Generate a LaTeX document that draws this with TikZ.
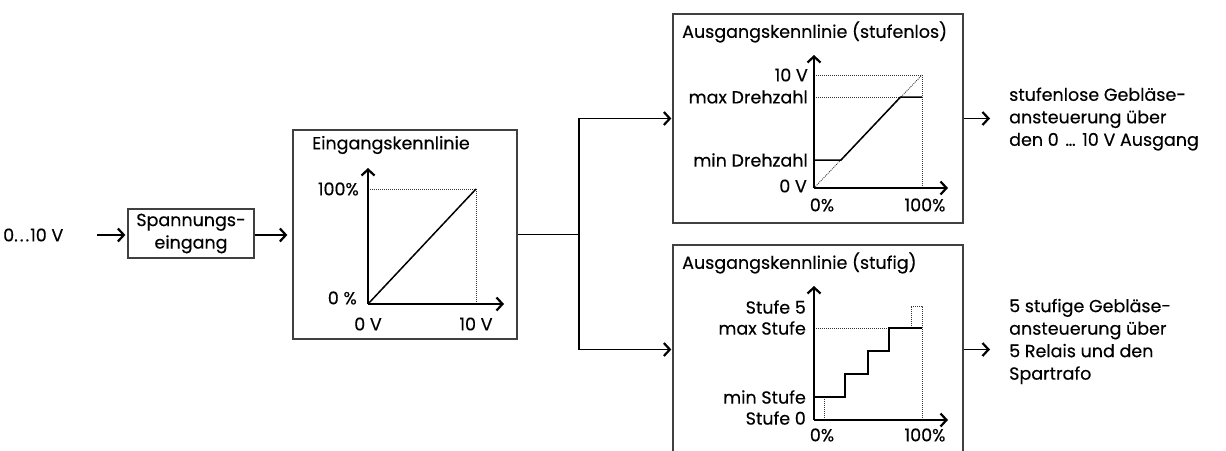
\documentclass[tikz,border=0pt]{standalone}
\usepackage{fontspec}
\setmainfont{Poppins}[FakeBold=0.35]
\usetikzlibrary{arrows.meta}
\begin{document}
\begin{tikzpicture}[x=1pt,y=-1pt,
  every node/.style={font=\fontsize{17.5}{22.5}\selectfont, inner sep=0pt, text=black},
  frame/.style={draw=black!75, line width=1.3pt},
  arr/.style={line width=1.1pt, -{Straight Barb[length=6pt,width=13pt,line width=2.2pt]}},
  axis/.style={line width=1.5pt, -{Straight Barb[length=6pt,width=13pt,line width=2.2pt]}},
  dotl/.style={line width=0.8pt, dash pattern=on 1pt off 1pt, black!80},
  curve/.style={line width=1.5pt},
  lbl/.style={anchor=east}
]
\useasboundingbox (0,0) rectangle (1226,450);
\clip (0,0) rectangle (1226,450);

% input
\node[anchor=west] (in) at (3,235) {0.\kern2pt.\kern2pt.\kern1pt10 V};
\coordinate (ia) at (97,235);
\node[frame, minimum width=126, minimum height=49, align=center] (sp) at (191,233.5) {Spannungs-\\eingang};
\draw[arr, shorten >=2pt] (ia) -- (sp.west |- ia);

% input characteristic
\node[frame, minimum width=224, minimum height=209] (ek) at (405,234.5) {};
\node[anchor=west] (ekt) at (312,145) {Eingangskennlinie};
\coordinate (sa) at (255,235);
\draw[arr, shorten >=5pt] (sa) -- (ek.west |- sa);
\coordinate (eo) at (368,304);
\draw[dotl] (368,189) -- (476,189) -- (476,304);
\draw[axis] (eo) -- (368,168);
\draw[axis] (eo) -- (504,304);
\draw[curve] (eo) -- (476,189);
\node[lbl] (e100) at (359,189) {100\%};
\node[lbl] (e0) at (357,298) {0 \%};
\node (e0v) at (368,324) {0 V};
\node (e10v) at (476,324) {10 V};

% output boxes
\node[frame, minimum width=290, minimum height=209] (ak1) at (818,118.5) {};
\node[frame, minimum width=290, minimum height=209] (ak2) at (818,349.5) {};
\node[anchor=west] (ak1t) at (682,32) {Ausgangskennlinie (stufenlos)};
\node[anchor=west] (ak2t) at (682,263) {Ausgangskennlinie (stufig)};

% split connector
\coordinate (split) at (579,234.5);
\draw[line width=1.1pt] (ek.east) -- (split);
\draw[arr, shorten >=1pt] (split) |- (ak1.west);
\draw[arr, shorten >=1pt] (split) |- (ak2.west);

% stufenlos plot
\coordinate (o1) at (814,188);
\draw[dotl] (814,75) -- (922,75) -- (922,188);
\draw[dotl] (814,97) -- (900,97);
\draw[dotl] (o1) -- (922,75);
\draw[axis] (o1) -- (814,55);
\draw[axis] (o1) -- (948,188);
\draw[curve] (814,160) -- (841,160) -- (900.5,97) -- (922,97);
\node[lbl] (l10v) at (808,75) {10 V};
\node[lbl] (lmax) at (808,97) {max Drehzahl};
\node[lbl] (lmin) at (808,160) {min Drehzahl};
\node[lbl] (l0v) at (807,186) {0 V};
\node (p0a) at (822,205) {0\%};
\node (p100a) at (925,205) {100\%};

% stufig plot
\coordinate (o2) at (814,420);
\draw[dotl] (814,328) -- (889,328);
\draw[dotl] (911,328) -- (911,306) -- (922,306) -- (922,420);
\draw[dotl] (824,397) -- (824,420);
\draw[axis] (o2) -- (814,286);
\draw[axis] (o2) -- (948,420);
\draw[curve] (814,397) -- (845,397) -- (845,374) -- (868,374) -- (868,351) -- (889,351) -- (889,328) -- (922,328);
\node[lbl] (s5) at (806,307) {Stufe 5};
\node[lbl] (smax) at (806,328) {max Stufe};
\node[lbl] (smin) at (806,397) {min Stufe};
\node[lbl] (s0) at (806,418) {Stufe 0};
\node (p0b) at (822,435) {0\%};
\node (p100b) at (925,435) {100\%};

% outputs
\node[anchor=west, align=left] (out1) at (1009,119) {stufenlose Gebläse-\\ansteuerung über\\den 0 \kern2pt…\kern2pt{} 10 V Ausgang};
\node[anchor=west, align=left] (out2) at (1009,341.5) {5 stufige Gebläse-\\ansteuerung über\\5 Relais und den\\Spartrafo};
\draw[arr, shorten >=19pt] (ak1.east) -- (ak1.east -| out1.west);
\draw[arr, shorten >=19pt] (ak2.east) -- (ak2.east -| out2.west);
\end{tikzpicture}
\end{document}
